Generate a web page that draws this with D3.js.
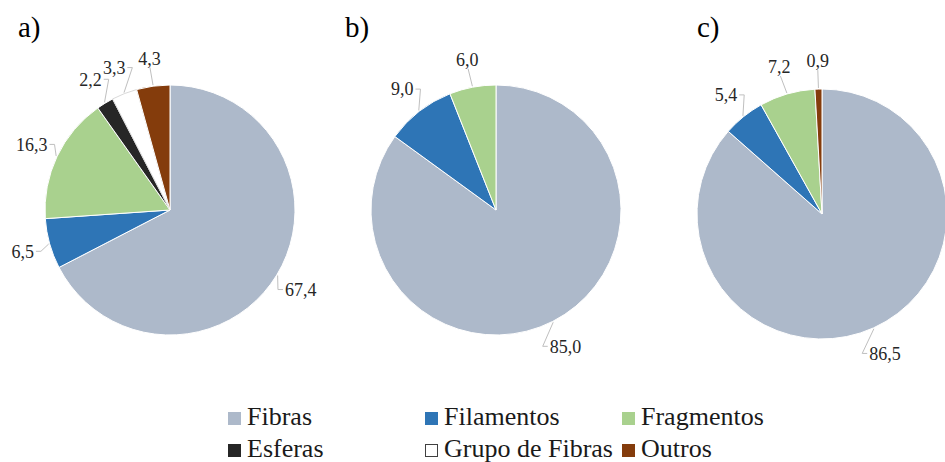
<!DOCTYPE html>
<html>
<head>
<meta charset="utf-8">
<script src="https://cdn.jsdelivr.net/npm/d3@7"></script>
<style>
  html, body { margin: 0; padding: 0; background: #fff; }
  svg { display: block; }
</style>
</head>
<body>
<svg id="chart" width="945" height="462"></svg>
<script>
// ---------- data ----------
const categories = ["Fibras", "Filamentos", "Fragmentos", "Esferas", "Grupo de Fibras", "Outros"];
const panelLabels = ["a)", "b)", "c)"];
const valuesA = [67.4, 6.5, 16.3, 2.2, 3.3, 4.3];
const valuesB = [85.0, 9.0, 6.0, 0, 0, 0];
const valuesC = [86.5, 5.4, 7.2, 0, 0, 0.9];
const seriesValues = [valuesA, valuesB, valuesC];

// ---------- styles / layout ----------
const FONT = "'Liberation Serif', Tinos, 'Times New Roman', 'DejaVu Serif', serif";
const colors = ["#adb9ca", "#2e75b6", "#a9d18e", "#262626", "#ffffff", "#843c0c"];
const radius = 125;
const panelCy = [210, 210, 214];
const titleX = [18, 345, 697];
const labelR = radius + 28;

const svg = d3.select("#chart").attr("font-family", FONT);

const xBand = d3.scaleBand().domain(panelLabels).range([7, 985]).padding(0);
const color = d3.scaleOrdinal().domain(categories).range(colors);

const pie = d3.pie().sort(null).value(d => d.value).startAngle(0).endAngle(2 * Math.PI);
const arc = d3.arc().innerRadius(0).outerRadius(radius);
const fmt = v => d3.format(".1f")(v).replace(".", ",");

panelLabels.forEach((p, i) => {
  const cx = xBand(p) + xBand.bandwidth() / 2;
  const cy = panelCy[i];
  const data = categories.map((c, k) => ({ cat: c, value: seriesValues[i][k] }));
  const arcs = pie(data);

  svg.append("text")
    .attr("x", titleX[i]).attr("y", 37)
    .attr("font-family", FONT)
    .attr("font-size", 29).attr("fill", "#000")
    .text(p);

  const g = svg.append("g").attr("transform", `translate(${cx},${cy})`);

  g.selectAll("path.slice")
    .data(arcs.filter(d => d.data.value > 0))
    .join("path")
    .attr("class", "slice")
    .attr("d", arc)
    .attr("fill", d => color(d.data.cat))
    .attr("stroke", d => d.data.cat === "Grupo de Fibras" ? "#c8c8c8" : "#ffffff")
    .attr("stroke-width", d => d.data.cat === "Grupo de Fibras" ? 0.7 : 1);

  arcs.filter(d => d.data.value > 0).forEach(d => {
    const m = (d.startAngle + d.endAngle) / 2;
    const dx = Math.sin(m), dy = -Math.cos(m);
    const lx = labelR * dx, ly = labelR * dy;
    const t = g.append("text")
      .attr("x", lx).attr("y", ly)
      .attr("dy", "0.35em")
      .attr("text-anchor", "middle")
      .attr("font-family", FONT)
      .attr("font-size", 18)
      .attr("fill", "#262626")
      .text(fmt(d.data.value));
    const w = t.node().getComputedTextLength();
    const ex = (radius + 1) * dx, ey = (radius + 1) * dy;
    let pts;
    if (Math.abs(dx) > 0.35) {
      const s = Math.sign(dx);
      const ax = lx - s * (w / 2 + 2);
      pts = [[ex, ey], [ax - s * 5, ly], [ax, ly]];
    } else {
      const s = Math.sign(dy);
      const ay = ly - s * 9;
      pts = [[ex, ey], [lx - dx * 4, ay]];
    }
    g.insert("path", "text")
      .attr("d", d3.line()(pts))
      .attr("fill", "none")
      .attr("stroke", "#bfbfbf")
      .attr("stroke-width", 1);
  });
});

// ---------- legend ----------
const legX = d3.scalePoint().domain([0, 1, 2]).range([228, 622]);
const legBaseline = [425, 457];
const sq = 13;
categories.forEach((c, k) => {
  const col = k % 3, row = Math.floor(k / 3);
  const x = legX(col), yb = legBaseline[row];
  svg.append("rect")
    .attr("x", x + 0.5).attr("y", yb - sq + 0.5)
    .attr("width", sq - 1).attr("height", sq - 1)
    .attr("fill", color(c))
    .attr("stroke", c === "Grupo de Fibras" ? "#404040" : color(c))
    .attr("stroke-width", 1);
  svg.append("text")
    .attr("x", x + 19).attr("y", yb)
    .attr("font-family", FONT)
    .attr("font-size", 26)
    .attr("fill", "#1a1a1a")
    .text(c);
});
</script>
</body>
</html>
